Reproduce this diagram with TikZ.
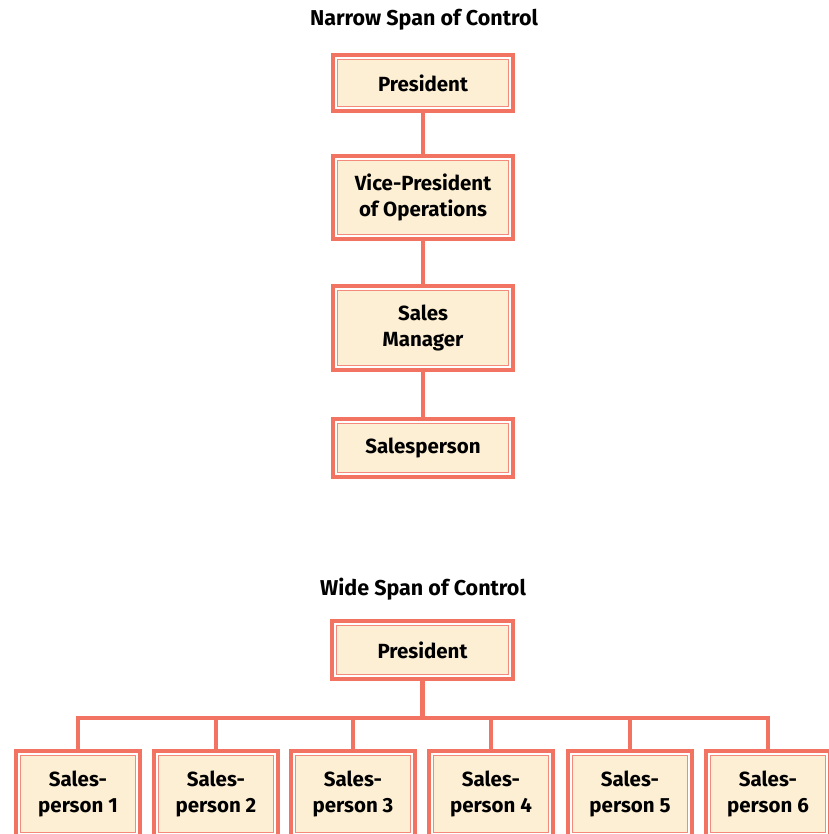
\documentclass[tikz,border=0pt]{standalone}
\usepackage{fontspec}
\setmainfont{Fira Sans}
\definecolor{orgred}{HTML}{F37363}
\definecolor{orgin}{HTML}{F38A7C}
\definecolor{cream}{HTML}{FDEFD4}
\begin{document}
\begin{tikzpicture}[x=1pt,y=-1pt,
  orgbox/.style={draw=orgred, line width=3.5pt, fill=white, rectangle,
    inner sep=0pt, align=center, font=\fontsize{20.5}{26.5}\selectfont\bfseries,
    path picture={\draw[orgin, line width=1.5pt, fill=cream]
      ([shift={(4.5,4.5)}]path picture bounding box.north west) rectangle
      ([shift={(-4.5,-4.5)}]path picture bounding box.south east);}},
  title/.style={font=\fontsize{21.5}{26}\selectfont\bfseries, inner sep=0pt},
  link/.style={draw=orgred, line width=4.5pt}]
\useasboundingbox (0,0) rectangle (828,834);
\node[title] (t1) at (424,19.5) {Narrow Span of Control};
\node[title] (t2) at (423,589.5) {Wide Span of Control};
% narrow
\node[orgbox, minimum width=180pt, minimum height=56pt] (p1) at (423,83) {President};
\node[orgbox, minimum width=180pt, minimum height=83pt] (vp) at (423,197.5) {Vice-President\\of Operations};
\node[orgbox, minimum width=180pt, minimum height=84pt] (sm) at (423,328) {Sales\\Manager};
\node[orgbox, minimum width=180pt, minimum height=58pt] (sp) at (423,448) {Salesperson};
\draw[link] (p1.south) -- (vp.north);
\draw[link] (vp.south) -- (sm.north);
\draw[link] (sm.south) -- (sp.north);
% wide
\node[orgbox, minimum width=181pt, minimum height=58pt] (p2) at (422.5,650) {President};
\coordinate (bus) at (422.5,718);
\foreach \i/\x in {1/78,2/216,3/353,4/491,5/630,6/768}{
  \node[orgbox, minimum width=124pt, minimum height=86pt] (s\i) at (\x,794) {Sales-\\person \i};
}
\draw[link] (p2.south) -- (bus);
\draw[link, line join=miter] (s1.north) |- (bus) -| (s6.north);
\foreach \i in {2,3,4,5}{
  \draw[link] (s\i.north) -- (s\i.north |- bus);
}
\end{tikzpicture}
\end{document}
